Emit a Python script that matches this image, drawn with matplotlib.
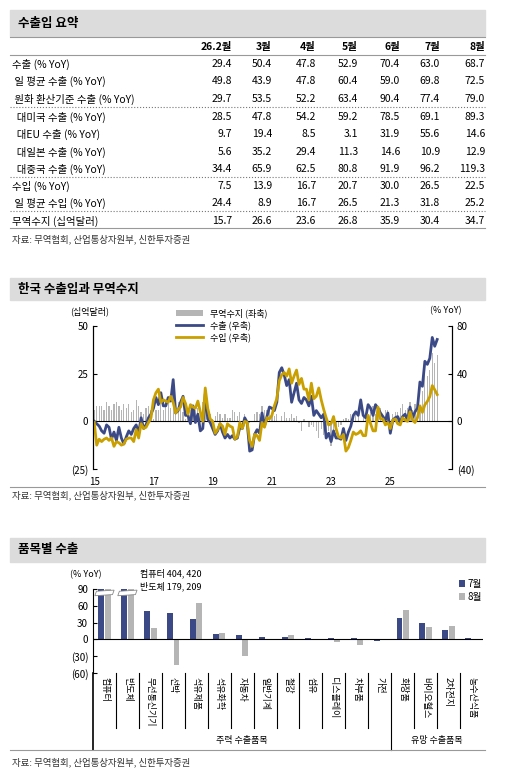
import numpy as np
import matplotlib.pyplot as plt
from matplotlib.patches import Rectangle, Polygon

plt.rcParams['font.family'] = ['Noto Sans CJK KR', 'DejaVu Sans']

W, H = 528, 782
NAVY = '#3B4A86'
GOLD = '#C9A000'
GREY = '#B5B5B5'

# ---- table data ----
tbl_cols = ['26.2월', '3월', '4월', '5월', '6월', '7월', '8월']
tbl_rows = ['수출 (% YoY)', ' 일 평균 수출 (% YoY)', ' 원화 환산기준 수출 (% YoY)',
            '  대미국 수출 (% YoY)', '  대EU 수출 (% YoY)', '  대일본 수출 (% YoY)',
            '  대중국 수출 (% YoY)', '수입 (% YoY)', ' 일 평균 수입 (% YoY)', '무역수지 (십억달러)']
tbl_vals = [
    [29.4, 50.4, 47.8, 52.9, 70.4, 63.0, 68.7],
    [49.8, 43.9, 47.8, 60.4, 59.0, 69.8, 72.5],
    [29.7, 53.5, 52.2, 63.4, 90.4, 77.4, 79.0],
    [28.5, 47.8, 54.2, 59.2, 78.5, 69.1, 89.3],
    [9.7, 19.4, 8.5, 3.1, 31.9, 55.6, 14.6],
    [5.6, 35.2, 29.4, 11.3, 14.6, 10.9, 12.9],
    [34.4, 65.9, 62.5, 80.8, 91.9, 96.2, 119.3],
    [7.5, 13.9, 16.7, 20.7, 30.0, 26.5, 22.5],
    [24.4, 8.9, 16.7, 26.5, 21.3, 31.8, 25.2],
    [15.7, 26.6, 23.6, 26.8, 35.9, 30.4, 34.7],
]

# ---- monthly series 2015-01 .. 2026-08 ----
exports = [0, -2, -4, -8, -10, -3, -5, -15, -9, -16, -5, -14,
           -19, -13, -8, -11, -6, -3, -10, 3, -6, -3, 3, 6,
           11, 20, 14, 24, 13, 13, 20, 17, 35, 7, 9, 16,
           21, 5, 5, -2, 13, -1, 6, -8, -6, 23, 2, -1,
           -6, -11, -8, -2, -9, -14, -11, -14, -12, -15, -14, -5,
           -6, 3, -1, -25, -24, -11, -7, -10, 7, -4, 4, 12,
           11, 9, 16, 41, 45, 39, 30, 35, 16, 24, 32, 18,
           15, 20, 18, 13, 21, 5, 9, 6, 3, 6, -14, -10,
           -17, -8, -14, -14, -15, -6, -16, -9, -4, 5, 8, 5,
           18, 5, 3, 14, 11, 5, 14, 11, 7, 4, 1, 7,
           -10, 1, 3, 4, -1, 4, 6, 1, 12, 3, 8, 11,
           33, 29.4, 50.4, 47.8, 52.9, 70.4, 63.0, 68.7]
imports = [-1, -20, -15, -17, -15, -14, -16, -14, -21, -17, -18, -20,
           -19, -15, -14, -14, -17, -7, -14, -2, -6, -5, -1, 3,
           18, 24, 27, 16, 18, 17, 16, 21, 16, 7, 10, 12,
           20, 15, 6, 14, 12, 11, 17, 8, 0, 28, 11, 2,
           0, -10, -7, -2, -4, -11, -2, -4, -5, -15, -13, -1,
           -6, 0, -1, -16, -21, -11, -12, -16, -1, -5, 3, 2,
           5, 13, 19, 34, 39, 41, 38, 44, 32, 38, 43, 31,
           36, 27, 27, 18, 32, 19, 21, 28, 18, 10, 3, -3,
           -2, 4, -6, -13, -14, -11, -25, -22, -16, -9, -11, -10,
           -8, -12, -12, 5, -2, -8, -8, 12, 2, 2, -3, -1,
           -6, 1, 2, -2, -3, 3, 1, 0, 8, 1, -1, 3,
           13, 7.5, 13.9, 16.7, 20.7, 30.0, 26.5, 22.5]
balance = [6, 8, 8, 8, 6, 10, 8, 6, 9, 10, 8, 6,
           9, 7, 9, 5, 6, 11, 8, 5, 4, 7, 8, 6,
           1, 6, 6, 13, 6, 11, 11, 7, 14, 7, 10, 7,
           5, 1, 7, 6, 6, 6, 7, 7, 10, 6, 4, 4,
           1, 3, 5, 4, 2, 4, 2, 2, 6, 5, 3, 5,
           0, 4, 0, -1, 0, 4, 5, 4, 8, 6, 6, 7,
           3, 3, 4, 0, 3, 5, 2, 2, 4, 2, 3, -1,
           -5, 1, 0, -3, -2, -3, -5, -9, -4, -7, -7, -5,
           -13, -5, -5, -3, -2, 1, 2, 1, 4, 2, 4, 4,
           0, 4, 4, 1, 5, 8, 4, 4, 7, 3, 6, 6,
           0, 4, 5, 5, 7, 9, 6, 7, 10, 6, 9, 12,
           8, 15.7, 26.6, 23.6, 26.8, 35.9, 30.4, 34.7]

# ---- item exports ----
items = ['컴퓨터', '반도체', '무선통신기기', '선박', '석유제품', '석유화학', '자동차', '일반기계',
         '철강', '섬유', '디스플레이', '차부품', '가전', '화장품', '바이오헬스', '2차전지', '농수산식품']
jul = [404, 179, 51, 47, 36, 10, 7, 5, 4, 3, 2, 2, -3, 38, 30, 17, 2]
aug = [420, 209, 21, -46, 65, 12, -30, 1, 8, 0, -4, -10, 0, 52, 22, 24, 0]
groups = [('주력 수출품목', 0, 13), ('유망 수출품목', 13, 17)]

fig = plt.figure(figsize=(W / 100, H / 100), dpi=100)


def fx(px):
    return px / W


def fy(py):
    return 1 - py / H


def header(y0, y1, title):
    fig.patches.append(Rectangle((fx(10), fy(y1)), fx(475), (y1 - y0) / H,
                                 transform=fig.transFigure, color='#DCDCDC', zorder=0))
    fig.text(fx(18), fy((y0 + y1) / 2), title, fontsize=9, fontweight='bold', va='center')


def hline(py, x0=10, x1=485, ls='-', lw=0.8, color='#888888'):
    fig.add_artist(plt.Line2D([fx(x0), fx(x1)], [fy(py), fy(py)], transform=fig.transFigure,
                              ls=ls, lw=lw, color=color))


# ---- section 1: table ----
header(10, 36, '수출입 요약')
col_x = [232, 272, 316, 358, 400, 440, 485]
fs = 7.5
for c, x in zip(tbl_cols, col_x):
    fig.text(fx(x), fy(47), c, fontsize=fs, fontweight='bold', ha='right', va='center')
row_y = [64, 81, 99, 117, 134, 152, 169, 186, 203, 221]
for name, y, vals in zip(tbl_rows, row_y, tbl_vals):
    fig.text(fx(12), fy(y), name, fontsize=fs, va='center')
    for v, x in zip(vals, col_x):
        fig.text(fx(x), fy(y), f'{v:.1f}', fontsize=fs, ha='right', va='center')
hline(37, color='#999999')
hline(55, color='#999999')
for y in (107, 177, 211):
    hline(y, ls=':', color='#777777')
hline(228, color='#999999')
fig.text(fx(12), fy(239), '자료: 무역협회, 산업통상자원부, 신한투자증권', fontsize=6.8, va='center', color='#333333')

# ---- section 2: line chart ----
header(278, 300, '한국 수출입과 무역수지')
ax = fig.add_axes([fx(93), fy(469), fx(452 - 93), (469 - 326) / H])
months = np.arange(len(exports))
ax.bar(months, balance, width=0.5, color=GREY, label='무역수지 (좌축)')
ax.set_ylim(-25, 50)
ax.set_yticks([-25, 0, 25, 50])
ax.set_yticklabels(['(25)', '0', '25', '50'])
ax.set_xlim(-0.5, 145)
ax.set_xticks([0, 24, 48, 72, 96, 120])
ax.set_xticklabels(['15', '17', '19', '21', '23', '25'])
ax2 = ax.twinx()
ax2.plot(months, exports, color=NAVY, lw=2, label='수출 (우축)')
ax2.plot(months, imports, color=GOLD, lw=2, label='수입 (우축)')
ax2.set_ylim(-40, 80)
ax2.set_yticks([-40, 0, 40, 80])
ax2.set_yticklabels(['(40)', '0', '40', '80'])
ax.axhline(0, color='black', lw=0.8)
for a in (ax, ax2):
    a.spines['top'].set_visible(False)
    a.tick_params(labelsize=7, length=3, direction='in')
ax.spines['bottom'].set_visible(False)
ax2.spines['bottom'].set_visible(False)
ax.tick_params(axis='x', length=0, pad=6)
h1, l1 = ax.get_legend_handles_labels()
h2, l2 = ax2.get_legend_handles_labels()
ax2.legend(h1 + h2, l1 + l2, loc='upper left', bbox_to_anchor=(0.22, 1.15), frameon=False,
           fontsize=6.5, handlelength=3, labelspacing=0.25, borderaxespad=0)
fig.text(fx(70), fy(311), '(십억달러)', fontsize=6.5, va='center')
fig.text(fx(462), fy(311), '(% YoY)', fontsize=6.5, ha='right', va='center')
hline(487, x0=10, x1=485, color='#999999')
fig.text(fx(12), fy(495), '자료: 무역협회, 산업통상자원부, 신한투자증권', fontsize=6.8, va='center', color='#333333')

# ---- section 3: bar chart ----
header(538, 562, '품목별 수출')
ax3 = fig.add_axes([fx(93), fy(673), fx(483 - 93), (673 - 589) / H])
x = np.arange(len(items))
jul_c = np.minimum(jul, 90)
aug_c = np.minimum(aug, 90)
ax3.bar(x - 0.14, jul_c, width=0.26, color=NAVY, label='7월')
ax3.bar(x + 0.14, aug_c, width=0.26, color=GREY, label='8월')
for i in range(len(items)):
    if jul[i] > 90:
        ax3.add_patch(Polygon([[i - 0.42, 78], [i + 0.35, 80], [i + 0.42, 88], [i - 0.35, 86]],
                              closed=True, facecolor='white', edgecolor='#888888', lw=0.6, zorder=3))
ax3.set_xlim(-0.5, len(items) - 0.5)
ax3.set_ylim(-60, 90)
ax3.set_yticks([-60, -30, 0, 30, 60, 90])
ax3.set_yticklabels(['(60)', '(30)', '0', '30', '60', '90'])
ax3.axhline(0, color='black', lw=0.8)
ax3.set_xticks([])
for s in ('top', 'right', 'bottom'):
    ax3.spines[s].set_visible(False)
ax3.tick_params(labelsize=7, length=3, direction='in')
ax3.legend(loc='upper right', bbox_to_anchor=(1.02, 1.22), frameon=False, fontsize=7,
           handlelength=0.6, handletextpad=0.3, labelspacing=0.3)
fig.text(fx(70), fy(575), '(% YoY)', fontsize=6.5, va='center')
fig.text(fx(140), fy(573), '컴퓨터 404, 420', fontsize=6.5, va='center')
fig.text(fx(140), fy(586), '반도체 179, 209', fontsize=6.5, va='center')
trans = ax3.get_xaxis_transform()
for i, name in enumerate(items):
    ax3.text(i, -0.05, name, transform=trans, rotation=270, fontsize=6.5, ha='center', va='top')
for b in range(1, len(items)):
    bottom = -0.92 if b == 13 else -0.65
    ax3.plot([b - 0.5, b - 0.5], [0, bottom], transform=trans, color='black', lw=0.8, clip_on=False)
ax3.plot([-0.5, -0.5], [0, -0.92], transform=trans, color='black', lw=1.2, clip_on=False)
for name, s, e in groups:
    ax3.text((s + e - 1) / 2, -0.8, name, transform=trans, fontsize=6.5, ha='center', va='center')
hline(750, x0=10, x1=485, color='#999999')
fig.text(fx(12), fy(762), '자료: 무역협회, 산업통상자원부, 신한투자증권', fontsize=6.8, va='center', color='#333333')

fig.savefig('out.png', dpi=100)
